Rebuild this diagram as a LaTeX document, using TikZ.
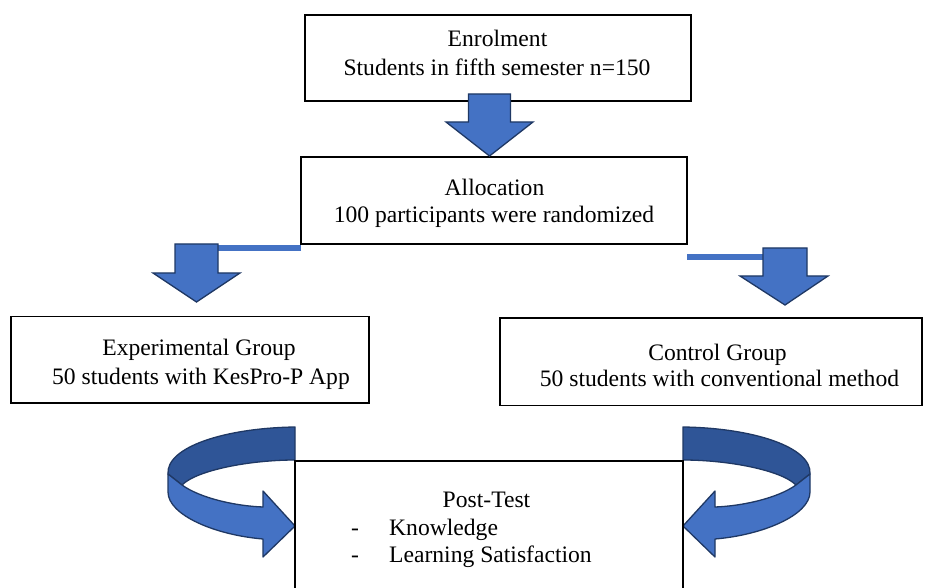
\documentclass[tikz,border=0pt]{standalone}
\usepackage{fontspec}
\setmainfont{Liberation Serif}
\definecolor{abl}{HTML}{4472C4}
\definecolor{adk}{HTML}{2F5597}
\definecolor{aln}{HTML}{1F3864}
\begin{document}
\begin{tikzpicture}[x=1pt,y=-1pt,
  box/.style={draw=black, line width=1.6pt, fill=white, rectangle, inner sep=0pt, outer sep=0pt},
  txt/.style={font=\fontsize{23.6}{28}\selectfont, inner sep=0pt, anchor=base},
  txtw/.style={txt, anchor=base west},
  blk/.style={fill=abl, draw=aln, line width=1.3pt, line join=miter},
  bar/.style={draw=abl, line width=5.5pt},
  back/.style={fill=adk, draw=aln, line width=1.3pt, line join=round},
  front/.style={fill=abl, draw=aln, line width=1.3pt, line join=round}]
\useasboundingbox (0,0) rectangle (927,588);
\clip (0,0) rectangle (927,588);
\fill[white] (0,0) rectangle (927,588);

% boxes
\node[box, minimum width=386pt, minimum height=86pt] (enrol) at (498,58) {};
\node[box, minimum width=386pt, minimum height=87pt] (alloc) at (494,200.5) {};
\node[box, minimum width=358pt, minimum height=86.5pt] (exper) at (190,359.7) {};
\node[box, minimum width=422pt, minimum height=87.5pt] (contr) at (711,361.7) {};

% straight block arrows
\draw[blk] (468.5,94) -- (510.5,94) -- (510.5,122) -- (533,122) -- (489.5,156) -- (446,122) -- (468.5,122) -- cycle;
\draw[bar] ([yshift=-4pt]alloc.south west) -- (218,248);
\draw[blk] (175,244) -- (218,244) -- (218,273) -- (240,273) -- (196.5,302) -- (153,273) -- (175,273) -- cycle;
\draw[bar] ([yshift=-13pt]alloc.south east) -- (763,257);
\draw[blk] (763,248) -- (807,248) -- (807,276) -- (828,276) -- (785,305) -- (740,276) -- (763,276) -- cycle;

% curved arrows
\draw[back] (295,427) -- (295,460) .. controls (250,460) and (197,470) .. (182,485) -- (168,474) .. controls (166,447) and (225,428) .. (295,427) -- cycle;
\draw[front] (168,474) -- (182,485) .. controls (200,498) and (235,506) .. (263,507) -- (263,491) -- (295,526) -- (263,557) -- (263,539) .. controls (215,535) and (168,515) .. (168,492) -- cycle;
\begin{scope}[shift={(978,0)}, xscale=-1]
\draw[back] (295,427) -- (295,460) .. controls (250,460) and (197,470) .. (182,485) -- (168,474) .. controls (166,447) and (225,428) .. (295,427) -- cycle;
\draw[front] (168,474) -- (182,485) .. controls (200,498) and (235,506) .. (263,507) -- (263,491) -- (295,526) -- (263,557) -- (263,539) .. controls (215,535) and (168,515) .. (168,492) -- cycle;
\end{scope}

\node[box, minimum width=388pt, minimum height=178pt] (post) at (489,550) {};

% texts
\node[txt] (t1a) at (497.5,47) {Enrolment};
\node[txt] (t1b) at (497,76) {Students in fifth semester n=150};
\node[txt] (t2a) at (494.5,196) {Allocation};
\node[txt] (t2b) at (494,223) {100 participants were randomized};
\node[txt] (t3a) at (199,355) {Experimental Group};
\node[txt] (t3b) at (201,384) {50 students with KesPro-P App};
\node[txt] (t4a) at (717.5,360) {Control Group};
\node[txt] (t4b) at (719.5,386) {50 students with conventional method};
\node[txt] (t5a) at (486.5,507) {Post-Test};
\node[txtw] (d1) at (351,535) {-};
\node[txtw] (t5b) at (389,535) {Knowledge};
\node[txtw] (d2) at (351,562) {-};
\node[txtw] (t5c) at (389,562) {Learning Satisfaction};
\end{tikzpicture}
\end{document}
